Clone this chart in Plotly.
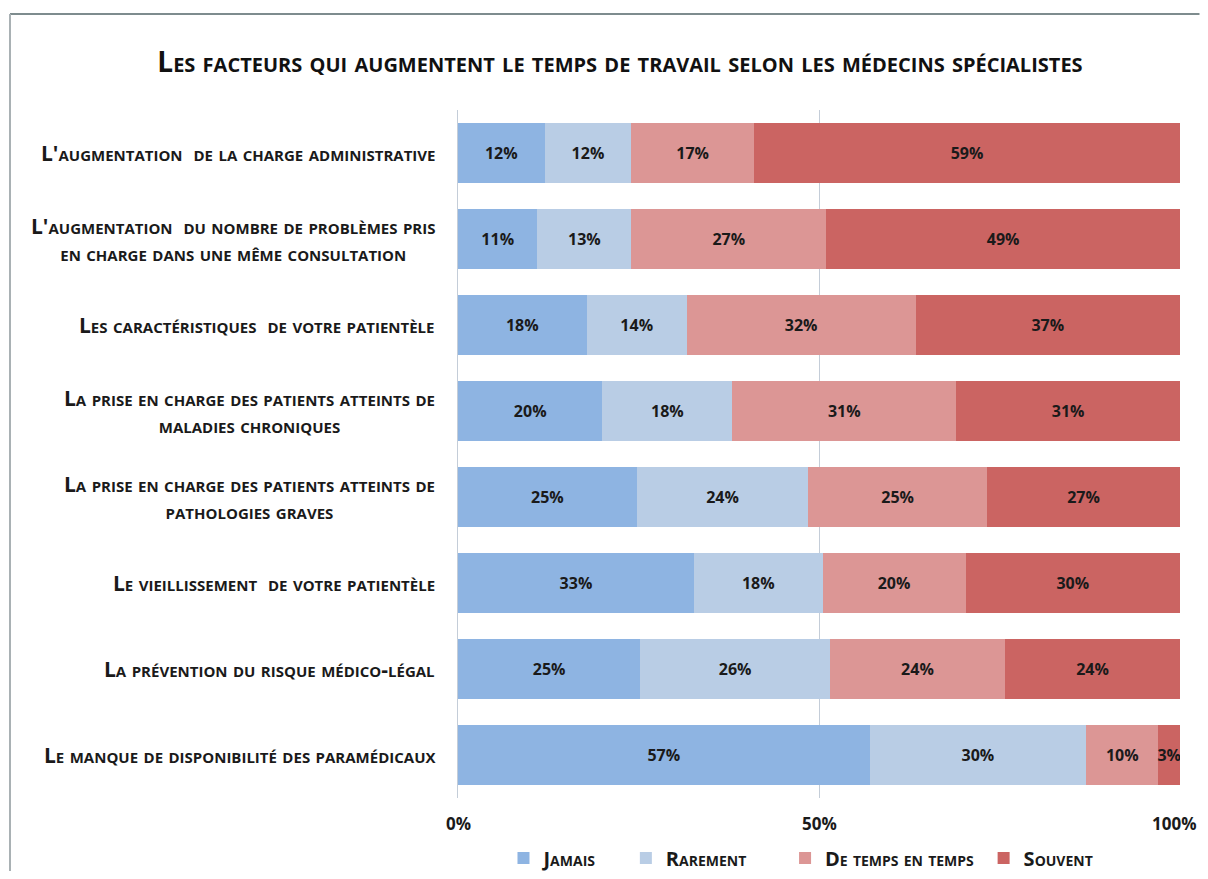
import plotly.graph_objects as go

title = "Les facteurs qui augmentent le temps de travail selon les médecins spécialistes"

factors = [
    "L'augmentation  de la charge administrative",
    "L'augmentation  du nombre de problèmes pris<br>en charge dans une même consultation",
    "Les caractéristiques  de votre patientèle",
    "La prise en charge des patients atteints de<br>maladies chroniques",
    "La prise en charge des patients atteints de<br>pathologies graves",
    "Le vieillissement  de votre patientèle",
    "La prévention du risque médico-légal",
    "Le manque de disponibilité des paramédicaux",
]

series_names = ["Jamais", "Rarement", "De temps en temps", "Souvent"]
jamais = [12, 11, 18, 20, 25, 33, 25, 57]
rarement = [12, 13, 14, 18, 24, 18, 26, 30]
de_temps = [17, 27, 32, 31, 25, 20, 24, 10]
souvent = [59, 49, 37, 31, 27, 30, 24, 3]
colors = ["#8EB4E2", "#B9CDE5", "#DC9695", "#CB6462"]

tick_vals = [0, 50, 100]
tick_text = ["0%", "50%", "100%"]

FONT = "Open Sans"
legend_ids = ["legend", "legend2", "legend3", "legend4"]
legend_x = [0.063, 0.2325, 0.453, 0.728]

fig = go.Figure()
for name, vals, col, lg in zip(series_names, [jamais, rarement, de_temps, souvent], colors, legend_ids):
    fig.add_trace(go.Bar(
        y=factors,
        x=vals,
        name=name,
        legend=lg,
        orientation="h",
        marker=dict(color=col, line=dict(width=0)),
        text=[f"{v}%" for v in vals],
        texttemplate="%{text}",
        textposition="inside",
        insidetextanchor="middle",
        textangle=0,
        textfont=dict(family=FONT, size=16, color="#1a1a1a", weight="bold"),
    ))

# category labels as annotations so two-line labels are centred
for f in factors:
    fig.add_annotation(
        x=0, xref="paper", y=f, yref="y",
        text=f, showarrow=False, xanchor="right", xshift=-21,
        align="center",
        font=dict(family=FONT, size=21, color="#1a1a1a", weight="bold", variant="small-caps"),
    )

# x tick labels as annotations so "100%" stays inside the page
for tv, tt in zip(tick_vals, tick_text):
    last = tv == tick_vals[-1]
    fig.add_annotation(
        x=tv, xref="x", y=0, yref="paper", yanchor="middle", yshift=-25,
        xanchor="right" if last else "center", xshift=18 if last else 0,
        text=tt, showarrow=False,
        font=dict(family=FONT, size=17, color="#1a1a1a", weight="bold"),
    )

# frame lines (top and left)
fig.add_shape(type="line", xref="paper", yref="paper", x0=-0.6205, x1=1.027, y0=1.1395, y1=1.1395,
              line=dict(color="#7E8C8E", width=2))
fig.add_shape(type="line", xref="paper", yref="paper", x0=-0.6205, x1=-0.6205, y0=1.1395, y1=-0.106,
              line=dict(color="#A9B1B4", width=2))

legend_font = dict(family=FONT, size=20, color="#1a1a1a", weight="bold", variant="small-caps")
legends = {}
for lg, lx in zip(legend_ids, legend_x):
    legends[lg] = dict(
        x=lx, xanchor="left", yref="container", y=0.0151, yanchor="middle", orientation="h",
        font=legend_font, itemwidth=30, bgcolor="rgba(0,0,0,0)",
    )

# page has the browser's default 8px body margin, so the figure is 16px smaller
fig.update_layout(
    width=1192, height=863,
    margin=dict(l=450, r=20, t=102, b=73, autoexpand=False),
    barmode="stack",
    barnorm="percent",
    bargap=0.30,
    plot_bgcolor="white",
    paper_bgcolor="white",
    uniformtext=dict(mode="show", minsize=16),
    title=dict(
        text=title, x=0.5134, xanchor="center", y=0.9374, yanchor="middle",
        font=dict(family=FONT, size=28, color="#111111", weight="bold", variant="small-caps"),
    ),
    showlegend=True,
    **legends,
)
fig.update_xaxes(
    range=[0, 100], tickvals=tick_vals,
    showgrid=True, gridcolor="#C4CDD8", gridwidth=1, zeroline=False,
    showline=False, ticks="", showticklabels=False,
)
fig.update_yaxes(
    autorange="reversed", showticklabels=False, showline=True,
    linecolor="#C4CDD8", linewidth=1, ticks="",
)

fig.write_html("out.html", config={"displayModeBar": False})
